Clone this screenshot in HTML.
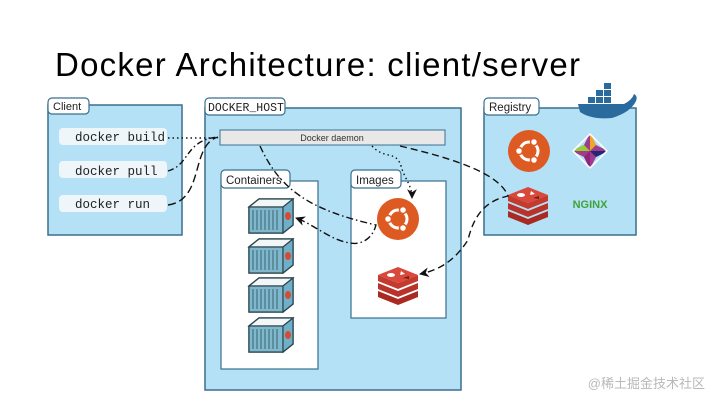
<!DOCTYPE html>
<html><head><meta charset="utf-8"><style>
html,body{margin:0;padding:0;background:#fff;width:720px;height:405px;overflow:hidden}
svg text{font-family:"Liberation Sans","Noto Sans CJK SC",sans-serif}
</style></head><body>
<svg width="720" height="405" viewBox="0 0 720 405" xmlns="http://www.w3.org/2000/svg">
<defs>
<marker id="ah" viewBox="0 0 10 10" refX="9" refY="5" markerWidth="7" markerHeight="7" orient="auto"><path d="M0,0L10,5L0,10L3,5z" fill="#111"/></marker>
<g id="cont">
<path d="M0,8 L10,0 L44,0 L44,26 L34,34 L0,34z" fill="#5a93a8" stroke="#2d4650" stroke-width="1.5"/>
<path d="M0,8 L10,0 L44,0 L34,8z" fill="#f2f6f7" stroke="#2d4650" stroke-width="1.2"/>
<rect x="0" y="8" width="34" height="26" fill="#7fb8cc" stroke="#2d4650" stroke-width="1.2"/>
<path d="M4,11v20M8,11v20M12,11v20M16,11v20M20,11v20M24,11v20M28,11v20" stroke="#3a6575" stroke-width="1"/>
<path d="M34,8 L44,0 L44,26 L34,34z" fill="#6fb0c8" stroke="#2d4650" stroke-width="1.2"/>
<ellipse cx="39" cy="17" rx="3" ry="4" fill="#d94a30"/>
</g>
<g id="ubu"><circle r="21" fill="#dd5a22"/><circle r="9" fill="none" stroke="#fff" stroke-width="3"/><circle cx="-10" cy="0" r="3.5" fill="#fff" stroke="#dd5a22" stroke-width="1.5"/><circle cx="5" cy="-9" r="3.5" fill="#fff" stroke="#dd5a22" stroke-width="1.5"/><circle cx="5" cy="9" r="3.5" fill="#fff" stroke="#dd5a22" stroke-width="1.5"/></g>
<g id="redis">
<path d="M-20,8 L0,16 L20,8 L20,14 L0,22 L-20,14z" fill="#a82a20"/>
<path d="M-20,0 L0,8 L20,0 L20,6 L0,14 L-20,6z" fill="#b8342a"/>
<path d="M-20,-8 L0,0 L20,-8 L20,-2 L0,6 L-20,-2z" fill="#c43a2e"/>
<path d="M-20,-8 L0,-16 L20,-8 L0,0z" fill="#d8493b"/>
<ellipse cx="-7" cy="-8" rx="4" ry="2" fill="#fff"/><path d="M3,-12 l4,3 l-5,1z" fill="#fff"/><path d="M5,-5 l6,-2 l0,3z" fill="#7a1a12"/>
</g>
</defs>
<text x="55" y="76" font-size="33" textLength="525" fill="#000">Docker Architecture: client/server</text>

<!-- Client -->
<rect x="48" y="105" width="134" height="130" fill="#b4e1f5" stroke="#3b6f8e" stroke-width="1.5"/>
<rect x="48" y="98" width="41" height="16" rx="4" fill="#fff" stroke="#3b6f8e" stroke-width="1.2"/>
<text x="53" y="110" font-size="11" fill="#222">Client</text>
<rect x="59" y="128" width="108" height="17" rx="4" fill="#eef6fa"/>
<rect x="59" y="161" width="108" height="17" rx="4" fill="#eef6fa"/>
<rect x="59" y="195" width="108" height="17" rx="4" fill="#eef6fa"/>
<g font-family="Liberation Mono,monospace" font-size="12.5" fill="#222">
<text x="75" y="141" style="font-family:'Liberation Mono',monospace">docker build</text>
<text x="75" y="175" style="font-family:'Liberation Mono',monospace">docker pull</text>
<text x="75" y="208" style="font-family:'Liberation Mono',monospace">docker run</text>
</g>

<!-- Docker host -->
<rect x="205" y="108" width="256" height="282" fill="#b4e1f5" stroke="#3b6f8e" stroke-width="1.5"/>
<rect x="205" y="98" width="80" height="17" rx="4" fill="#fff" stroke="#3b6f8e" stroke-width="1.2"/>
<text x="208" y="111" font-size="11.5" style="font-family:'Liberation Mono',monospace" fill="#222">DOCKER_HOST</text>
<rect x="220" y="130" width="225" height="15" fill="#e8e8e8" stroke="#3b6f8e" stroke-width="1"/>
<text x="332" y="141" font-size="9" text-anchor="middle" fill="#333">Docker daemon</text>

<rect x="221" y="181" width="97" height="188" fill="#fff" stroke="#3b6f8e" stroke-width="1.2"/>
<rect x="221" y="170" width="69" height="18" rx="4" fill="#fff" stroke="#3b6f8e" stroke-width="1.2"/>
<text x="226" y="184" font-size="11.5" fill="#222">Containers</text>
<rect x="351" y="181" width="95" height="137" fill="#fff" stroke="#3b6f8e" stroke-width="1.2"/>
<rect x="351" y="170" width="50" height="18" rx="4" fill="#fff" stroke="#3b6f8e" stroke-width="1.2"/>
<text x="356" y="184" font-size="11.5" fill="#222">Images</text>

<use href="#cont" x="249" y="199"/>
<use href="#cont" x="249" y="239"/>
<use href="#cont" x="249" y="278"/>
<use href="#cont" x="249" y="318"/>
<use href="#ubu" x="398" y="219"/>
<use href="#redis" x="398" y="283"/>

<!-- Registry -->
<rect x="484" y="108" width="152" height="127" fill="#b4e1f5" stroke="#3b6f8e" stroke-width="1.5"/>
<rect x="484" y="98" width="55" height="17" rx="4" fill="#fff" stroke="#3b6f8e" stroke-width="1.2"/>
<text x="489" y="111" font-size="11.5" fill="#222">Registry</text>
<use href="#ubu" x="529" y="151"/>
<use href="#redis" x="528" y="203"/>
<g transform="translate(590,151)">
<path d="M0,-18 L6,-6 L18,0 L6,6 L0,18 L-6,6 L-18,0 L-6,-6z" fill="#9c3d8f"/>
<path d="M0,-18 L6,-6 L0,0z" fill="#efa724"/><path d="M18,0 L6,6 L0,0z" fill="#262577"/><path d="M0,18 L-6,6 L0,0z" fill="#932279"/><path d="M-18,0 L-6,-6 L0,0z" fill="#9ccd2a"/>
<rect x="-12" y="-12" width="24" height="24" fill="none" stroke="#fff" stroke-width="1.5" transform="rotate(45)"/>
</g>
<text x="590" y="208" font-size="11" font-weight="bold" text-anchor="middle" fill="#3ea33a">NGINX</text>
<!-- whale -->
<g fill="#2b6a9c">
<path d="M578,104 L624,104 Q632,100 634,94 Q638,96 636,101 Q631,112 612,118 Q592,120 580,112z"/>
<rect x="588" y="97" width="7" height="6"/><rect x="596" y="97" width="7" height="6"/><rect x="604" y="97" width="7" height="6"/>
<rect x="596" y="90" width="7" height="6"/><rect x="604" y="90" width="7" height="6"/><rect x="604" y="83" width="7" height="6"/>
</g>

<!-- connectors -->
<g fill="none" stroke="#111" stroke-width="1.4">
<path d="M168,138 L218,138" stroke-dasharray="1.5,3"/>
<path d="M168,171 C190,165 185,140 218,137" stroke-dasharray="6,3,1.5,3"/>
<path d="M168,205 C205,200 190,145 218,137" stroke-dasharray="8,4"/>
<path d="M372,146 C385,160 396,150 401,166 C405,180 412,185 412,198" stroke-dasharray="1.5,3" marker-end="url(#ah)"/>
<path d="M400,146 C460,160 500,175 508,196 C490,200 475,210 468,240 C455,260 440,270 420,274" stroke-dasharray="7,4" marker-end="url(#ah)"/>
<path d="M260,146 C280,190 310,210 376,225 C372,240 360,245 350,243 C330,240 315,225 296,218" stroke-dasharray="7,3,1.5,3" marker-end="url(#ah)"/>
</g>
<text x="705" y="388" font-size="13" text-anchor="end" fill="#b8b8b8">@稀土掘金技术社区</text>
</svg>
</body></html>
